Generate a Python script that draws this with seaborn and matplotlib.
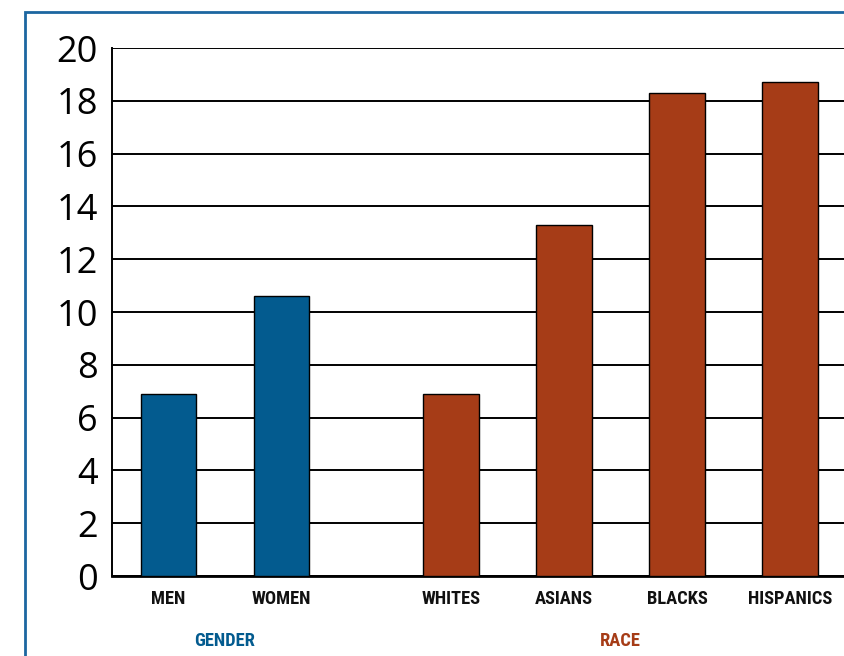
import matplotlib
matplotlib.use("Agg")
import matplotlib.pyplot as plt
import matplotlib.transforms as mtransforms
from matplotlib import font_manager
from matplotlib.patches import Rectangle
import seaborn as sns
import pandas as pd

# ---- data ----
categories = ["MEN", "WOMEN", "WHITES", "ASIANS", "BLACKS", "HISPANICS"]
groups = ["GENDER", "GENDER", "RACE", "RACE", "RACE", "RACE"]
values = [6.9, 10.6, 6.9, 13.3, 18.3, 18.7]
y_ticks = [0, 2, 4, 6, 8, 10, 12, 14, 16, 18, 20]

# ---- layout (positions on the x axis, with a gap between groups) ----
group_gap = 0.5
positions = []
pos = 0.0
prev = None
for g in groups:
    if prev is not None:
        pos += 1.0 + (group_gap if g != prev else 0.0)
    positions.append(pos)
    prev = g

BLUE = "#035B8F"
RUST = "#A63C17"
palette = {"GENDER": BLUE, "RACE": RUST}


def pick_font(cands, default):
    for c in cands:
        try:
            font_manager.findfont(font_manager.FontProperties(family=c),
                                  fallback_to_default=False)
            return c
        except Exception:
            continue
    return default


NARROW = pick_font(["Roboto Condensed", "Liberation Sans Narrow",
                    "Open Sans Condensed", "Noto Sans Condensed",
                    "DejaVu Sans Condensed"], "Roboto")
narrow_size = 13.3 if NARROW != "Roboto" else 11

df = pd.DataFrame({"pos": positions, "value": values, "group": groups,
                   "cat": categories})

sns.set_theme(style="white")
plt.rcParams["font.family"] = ["Open Sans", "DejaVu Sans"]

fig = plt.figure(figsize=(8.44, 6.56), dpi=100)
ax = fig.add_axes([112 / 844, 80 / 656, 1 - 112 / 844, 528 / 656])

sns.barplot(data=df, x="pos", y="value", hue="group", palette=palette,
            native_scale=True, width=0.49, dodge=False, legend=False,
            edgecolor="black", linewidth=1.0, saturation=1, ax=ax, zorder=3)

ax.set_xlim(-0.5, 5.978)
ax.set_ylim(0, 20)
ax.set_yticks(y_ticks)
ax.set_yticklabels([str(t) for t in y_ticks], fontsize=26, color="black",
                   family=["Open Sans", "DejaVu Sans"])
ax.yaxis.grid(True, color="black", linewidth=1.4, zorder=1)
ax.set_axisbelow(True)
ax.tick_params(axis="y", length=0, pad=10)
ax.tick_params(axis="x", length=0, pad=10)
ax.set_xticks(positions)
ax.set_xticklabels(categories, fontsize=narrow_size, fontweight="bold",
                   color="#111111", family=[NARROW, "DejaVu Sans"])
ax.set_xlabel("")
ax.set_ylabel("")
for side in ["top", "right"]:
    ax.spines[side].set_visible(False)
ax.spines["left"].set_color("black")
ax.spines["left"].set_linewidth(1.4)
ax.spines["bottom"].set_color("black")
ax.spines["bottom"].set_linewidth(2.0)

# group labels
trans = mtransforms.blended_transform_factory(ax.transData, fig.transFigure)
for g, col in palette.items():
    xs = [p for p, gg in zip(positions, groups) if gg == g]
    ax.text(sum(xs) / len(xs), 1 - 641 / 656, g, transform=trans,
            ha="center", va="center", fontsize=narrow_size,
            fontweight="bold", color=col, family=[NARROW, "DejaVu Sans"])

# outer frame
fig.patches.append(Rectangle((25 / 844, -0.1), 1.2, 1 - 12 / 656 + 0.1,
                             transform=fig.transFigure, fill=False,
                             edgecolor="#1C66A0", linewidth=2.0, zorder=0))

fig.savefig("out.png", dpi=100)
